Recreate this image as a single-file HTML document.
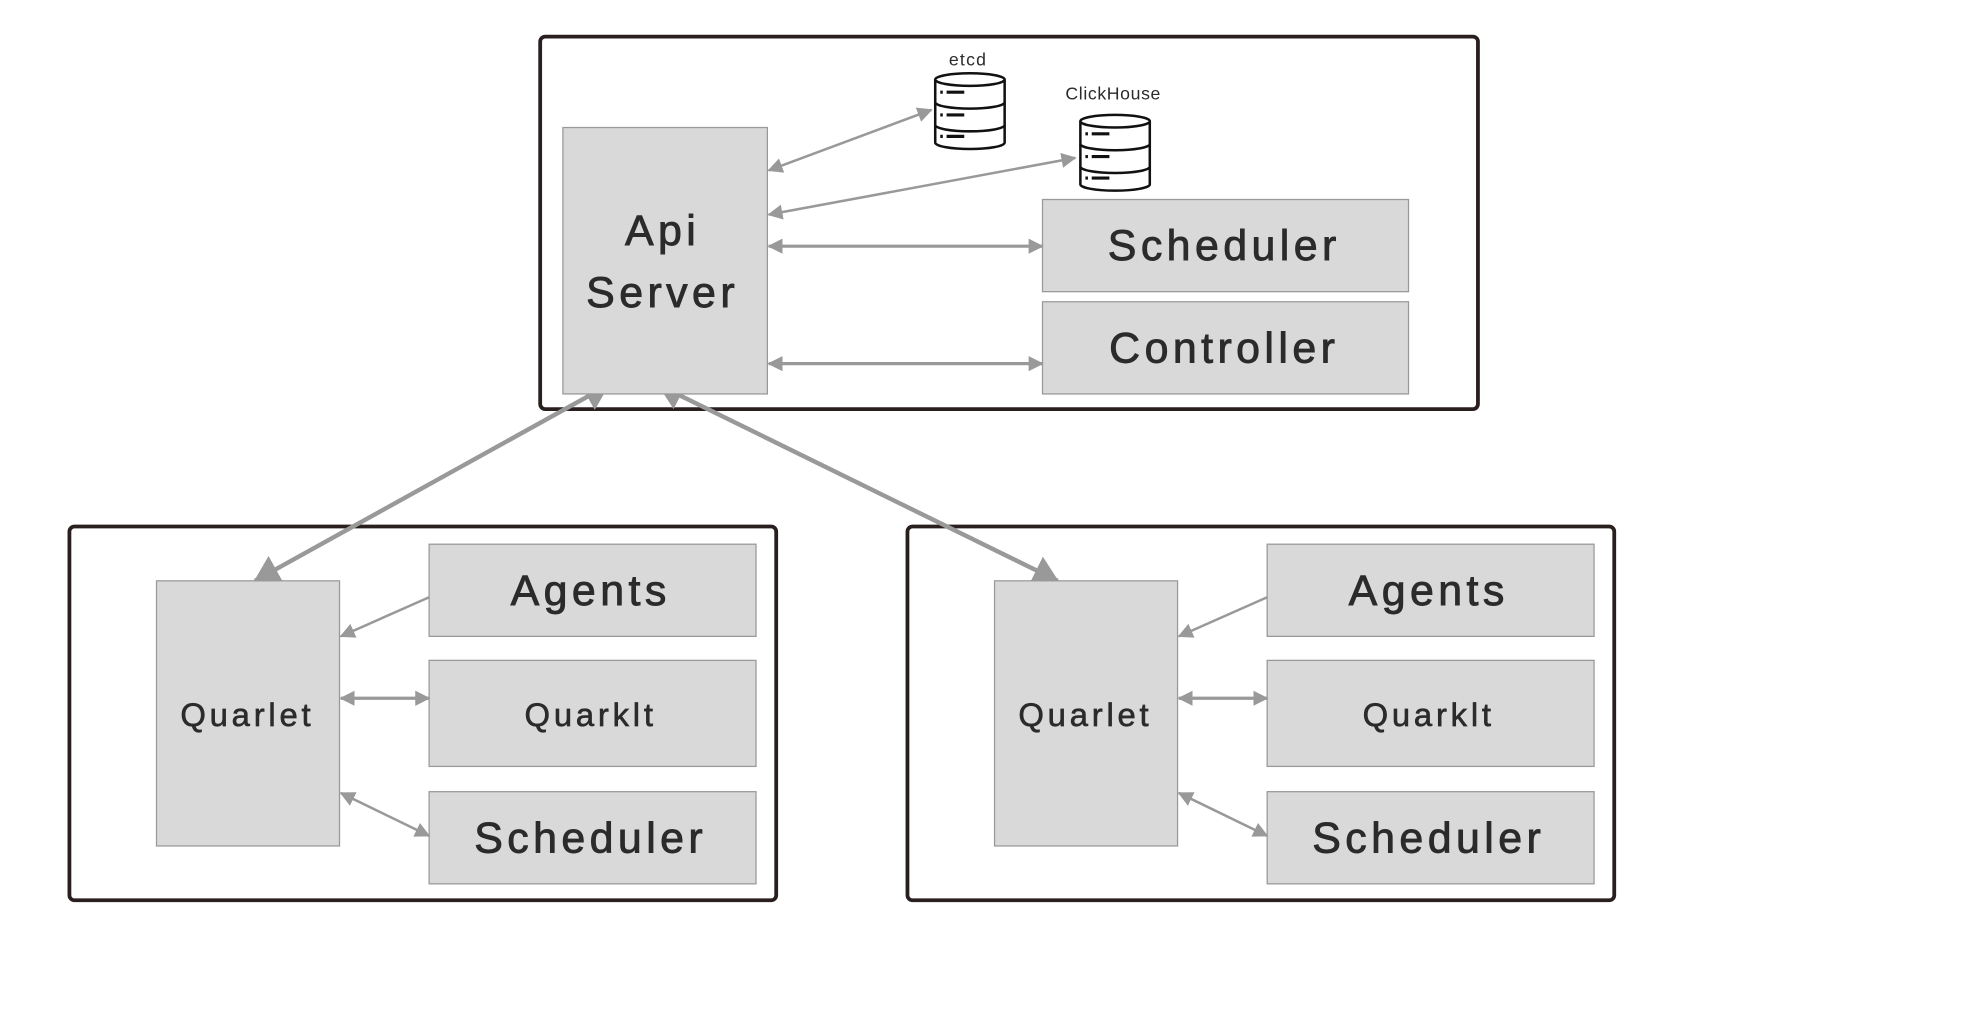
<!DOCTYPE html>
<html><head><meta charset="utf-8"><style>
html,body{margin:0;padding:0;background:#fff;}
svg{display:block;}
text{font-family:"Liberation Sans",sans-serif;fill:#2b2b2b;text-anchor:middle;dominant-baseline:central;}
</style></head><body>
<svg width="1979" height="1024" viewBox="0 0 1568 811" preserveAspectRatio="none" xmlns="http://www.w3.org/2000/svg">
<defs>
<marker id="s" viewBox="0 0 12 12" refX="11" refY="6" markerWidth="12" markerHeight="12" markerUnits="userSpaceOnUse" orient="auto-start-reverse"><path d="M0,0 L12,6 L0,12 z" fill="#999"/></marker>
<marker id="b" viewBox="0 0 20 24" refX="19" refY="12" markerWidth="20" markerHeight="24" markerUnits="userSpaceOnUse" orient="auto-start-reverse"><path d="M0,0 L20,12 L0,24 z" fill="#999"/></marker>
</defs>
<g fill="none" stroke="#2a1f1f" stroke-width="3">
<rect x="428" y="29" width="743" height="295" rx="4"/>
<rect x="55" y="417" width="560" height="296" rx="4"/>
<rect x="719" y="417" width="560" height="296" rx="4"/>
</g>
<g stroke="#999" stroke-width="3.5" fill="none">
<line x1="482" y1="305" x2="202" y2="460" marker-start="url(#b)" marker-end="url(#b)"/>
<line x1="522" y1="305" x2="838" y2="460" marker-start="url(#b)" marker-end="url(#b)"/>
</g>
<g fill="#d9d9d9" stroke="#999" stroke-width="1">
<rect x="446" y="101" width="162" height="211"/>
<rect x="826" y="158" width="290" height="73"/>
<rect x="826" y="239" width="290" height="73"/>
<rect x="124" y="460" width="145" height="210"/>
<rect x="340" y="431" width="259" height="73"/>
<rect x="340" y="523" width="259" height="84"/>
<rect x="340" y="627" width="259" height="73"/>
<rect x="788" y="460" width="145" height="210"/>
<rect x="1004" y="431" width="259" height="73"/>
<rect x="1004" y="523" width="259" height="84"/>
<rect x="1004" y="627" width="259" height="73"/>
</g>
<g stroke="#999" stroke-width="2" fill="none">
<line x1="609" y1="135" x2="738" y2="87" marker-start="url(#s)" marker-end="url(#s)"/>
<line x1="609" y1="170" x2="852" y2="125" marker-start="url(#s)" marker-end="url(#s)"/>
<line x1="609" y1="195" x2="826" y2="195" stroke-width="2.5" marker-start="url(#s)" marker-end="url(#s)"/>
<line x1="609" y1="288" x2="826" y2="288" stroke-width="2.5" marker-start="url(#s)" marker-end="url(#s)"/>
<line x1="340" y1="473" x2="270" y2="504" marker-end="url(#s)"/>
<line x1="270" y1="553" x2="340" y2="553" stroke-width="2.5" marker-start="url(#s)" marker-end="url(#s)"/>
<line x1="270" y1="628" x2="340" y2="662" marker-start="url(#s)" marker-end="url(#s)"/>
<line x1="1004" y1="473" x2="934" y2="504" marker-end="url(#s)"/>
<line x1="934" y1="553" x2="1004" y2="553" stroke-width="2.5" marker-start="url(#s)" marker-end="url(#s)"/>
<line x1="934" y1="628" x2="1004" y2="662" marker-start="url(#s)" marker-end="url(#s)"/>
</g>
<g fill="#fff" stroke="#111" stroke-width="2">
<g>
<path d="M741,63 L741,113 A27.5,5 0 0 0 796,113 L796,63"/>
<ellipse cx="768.5" cy="63" rx="27.5" ry="5"/>
<path d="M741,81 A27.5,5 0 0 0 796,81 M741,99 A27.5,5 0 0 0 796,99" fill="none"/>
<path d="M745,73 h2 M750,73 h14 M745,91 h2 M750,91 h14 M745,108 h2 M750,108 h14" fill="none" stroke-width="2.5"/>
</g>
<g transform="translate(115,33)">
<path d="M741,63 L741,113 A27.5,5 0 0 0 796,113 L796,63"/>
<ellipse cx="768.5" cy="63" rx="27.5" ry="5"/>
<path d="M741,81 A27.5,5 0 0 0 796,81 M741,99 A27.5,5 0 0 0 796,99" fill="none"/>
<path d="M745,73 h2 M750,73 h14 M745,91 h2 M750,91 h14 M745,108 h2 M750,108 h14" fill="none" stroke-width="2.5"/>
</g>
</g>
<text x="767" y="47" font-size="14" letter-spacing="1">etcd</text>
<text x="882" y="74" font-size="14" letter-spacing="0.5">ClickHouse</text>
<g font-size="34" letter-spacing="3.5" stroke="#2b2b2b" stroke-width="0.7">
<text x="525" y="183">Api</text>
<text x="525" y="232">Server</text>
<text x="970" y="195">Scheduler</text>
<text x="970" y="276">Controller</text>
<text x="468" y="468">Agents</text>
<text x="468" y="664">Scheduler</text>
<text x="1132" y="468">Agents</text>
<text x="1132" y="664">Scheduler</text>
</g>
<g font-size="26" letter-spacing="3" stroke="#2b2b2b" stroke-width="0.5">
<text x="196" y="566">Quarlet</text>
<text x="468" y="566">Quarklt</text>
<text x="860" y="566">Quarlet</text>
<text x="1132" y="566">Quarklt</text>
</g>
</svg>
</body></html>
